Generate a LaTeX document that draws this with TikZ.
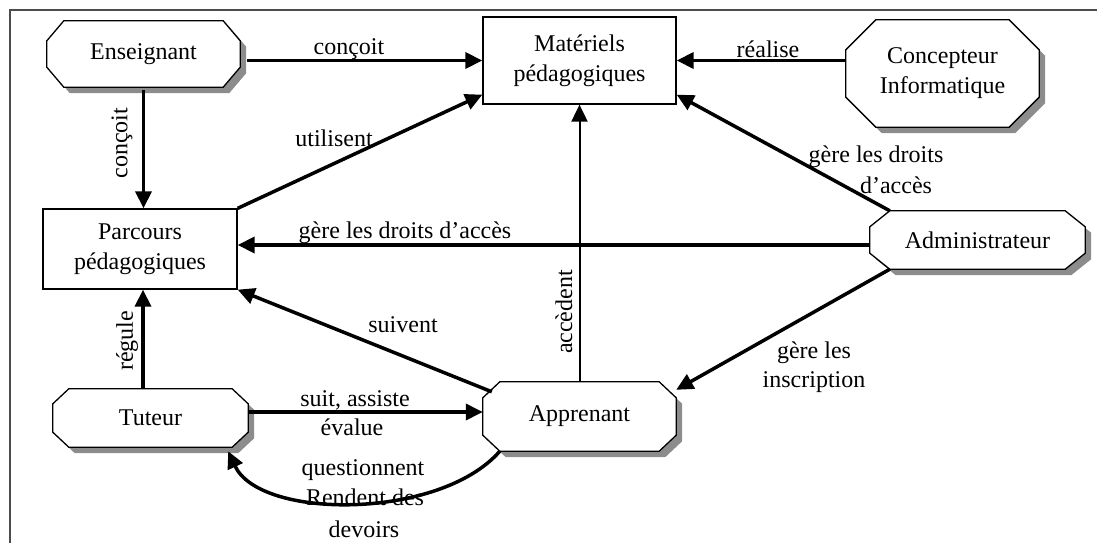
\documentclass[tikz,border=0pt]{standalone}
\usepackage{fontspec}
\setmainfont{Liberation Serif}
\usetikzlibrary{arrows.meta,backgrounds}

\definecolor{shadowgray}{gray}{0.55}
\definecolor{framegray}{gray}{0.3}

\tikzset{
  txt/.style={font=\fontsize{24}{30}\selectfont},
  box/.style={txt, draw, line width=1.3pt, inner sep=0pt, align=center},
  octo/.style={txt, draw=none, inner sep=0pt, align=center},
  lbl/.style={txt, inner sep=0pt},
  rel/.style={line width=3.5pt, -{Triangle[length=17pt,width=16pt]}},
  relthin/.style={line width=2pt, -{Triangle[length=17pt,width=16pt]}},
}

% octagon outline around a node: cut sizes #2 (x) and #3 (y), offset #4 right, #5 down
\newcommand\octpath[5]{%
  ([shift={(#2+#4,-#5)}]#1.north west) -- ([shift={(-#2+#4,-#5)}]#1.north east)
  -- ([shift={(#4,-#3-#5)}]#1.north east) -- ([shift={(#4,#3-#5)}]#1.south east)
  -- ([shift={(-#2+#4,-#5)}]#1.south east) -- ([shift={(#2+#4,-#5)}]#1.south west)
  -- ([shift={(#4,#3-#5)}]#1.south west) -- ([shift={(#4,-#3-#5)}]#1.north west) -- cycle}
\newcommand\octagon[3]{%
  \fill[shadowgray] \octpath{#1}{#2}{#3}{6pt}{6pt};
  \filldraw[fill=white, draw=black, line width=1.3pt] \octpath{#1}{#2}{#3}{0pt}{0pt};}

\begin{document}
\begin{tikzpicture}[x=1pt, y=-1pt]
\useasboundingbox (0,0) rectangle (1097,543);

% frame
\draw[framegray, line width=1.5pt] (10,543) -- (10,10) -- (1097,10);

% actors and objects
\node[octo, minimum width=193pt, minimum height=66pt] (ens) at (143.5,54) {Enseignant};
\node[box, minimum width=193pt, minimum height=87pt] (mat) at (579.5,60.5) {Matériels\\pédagogiques};
\node[octo, minimum width=193pt, minimum height=107pt] (con) at (942.5,73.5) {Concepteur\\Informatique};
\node[box, minimum width=194pt, minimum height=80pt] (par) at (140,249) {Parcours\\pédagogiques};
\node[octo, minimum width=215pt, minimum height=58pt] (adm) at (977.5,240) {Administrateur};
\node[octo, minimum width=195pt, minimum height=58pt] (tut) at (150.5,418) {Tuteur};
\node[octo, minimum width=193pt, minimum height=69pt] (app) at (579.5,416.5) {Apprenant};

\begin{scope}[on background layer]
  \octagon{ens}{17pt}{20pt}
  \octagon{con}{30pt}{30pt}
  \octagon{adm}{20pt}{16pt}
  \octagon{tut}{16pt}{15pt}
  \octagon{app}{17pt}{16pt}
\end{scope}

% relations
\draw[rel] ([xshift=7pt]ens.east |- mat.west) -- (mat.west);
\node[lbl, anchor=base] (l1) at (349,55) {conçoit};

\draw[rel] (con.west |- mat.east) -- (mat.east);
\node[lbl, anchor=base] (l2) at (768,57) {réalise};

\draw[rel] ([yshift=-3pt]ens.south) -- (ens.south |- par.north);
\node[lbl, rotate=90] (l3) at (122,143) {conçoit};

\draw[rel] (par.north east) -- ([yshift=10pt]mat.south west);
\node[lbl, anchor=base] (l4) at (334,146) {utilisent};

\draw[rel] ([yshift=-5pt]adm.west) -- ([yshift=-5pt]adm.west -| par.east);
\node[lbl, anchor=base] (l5) at (405,238) {gère les droits d’accès};

\draw[rel] ([xshift=20pt]adm.north west) -- ([yshift=10pt]mat.south east);
\node[lbl, anchor=base] (l6a) at (876,162) {gère les droits};
\node[lbl, anchor=base] (l6b) at (896,193) {d’accès};

\draw[relthin] (app.north) -- (mat.south);
\node[lbl, rotate=90] (l7) at (564,312) {accèdent};

\draw[rel] ([shift={(9pt,-10pt)}]app.north west) -- (par.south east);
\node[lbl, anchor=base] (l8) at (403,332) {suivent};

\draw[rel] ([xshift=20pt]adm.south west) -- ([yshift=-8pt]app.north east);
\node[lbl, anchor=base] (l9a) at (814,358) {gère les};
\node[lbl, anchor=base] (l9b) at (814,387) {inscription};

\draw[rel] ([xshift=3pt]par.south |- tut.north) -- ([xshift=3pt]par.south);
\node[lbl, rotate=90] (l10) at (127,341) {régule};

\draw[rel] ([yshift=6pt]tut.east) -- ([yshift=6pt]tut.east -| app.west);
\node[lbl, anchor=base] (l11a) at (355,406) {suit, assiste};
\node[lbl, anchor=base] (l11b) at (352,435) {évalue};

\draw[rel] ([xshift=17pt]app.south west) .. controls (440,520) and (260,520) .. ([shift={(-20pt,-4pt)}]tut.south east);
\node[lbl, anchor=base] (l12a) at (363,475) {questionnent};
\node[lbl, anchor=base] (l12b) at (365,505) {Rendent des};
\node[lbl, anchor=base] (l12c) at (364,537) {devoirs};
\end{tikzpicture}
\end{document}
